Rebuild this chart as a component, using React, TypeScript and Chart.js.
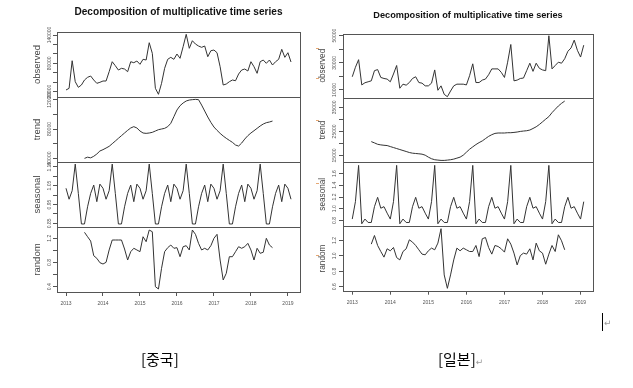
import React, { useEffect, useRef } from 'react';
import { Chart, registerables } from 'chart.js';

Chart.register(...registerables);

// ---------------- data ----------------
const START_YEAR = 2013; // Jan 2013, monthly
const TREND_OFFSET = 6; // trend / random start Jul 2013
const YEAR_TICKS = [2013, 2014, 2015, 2016, 2017, 2018, 2019];
const TITLE = 'Decomposition of multiplicative time series';
const PANEL_NAMES = ['observed', 'trend', 'seasonal', 'random'];

// China
const CN_OBSERVED = [
  23400, 27000, 85500, 41000, 29100, 34000, 44600, 50300, 53100, 44600, 37600, 39700,
  42500, 42500, 62200, 83400, 74900, 65800, 69400, 67900, 62200, 83400, 81300, 84900,
  77900, 88500, 87000, 123700, 101200, 27000, 14300, 37600, 69400, 88500, 92700, 88500,
  99700, 90600, 115200, 141500, 111800, 127900, 120900, 116700, 113900, 116700, 94000, 106700,
  108200, 102500, 72800, 34000, 36100, 41000, 44600, 43100, 57300, 65800, 67900, 63700,
  83400, 72800, 58800, 83400, 87000, 80000, 87000, 76400, 83400, 88500, 109700, 92700,
  102500, 82800,
];
const CN_TREND = [
  40200, 41800, 40900, 43000, 46100, 50200, 52000, 54200, 56500, 60100, 63700, 67400,
  71000, 74600, 78200, 81400, 83200, 81400, 77300, 74600, 74100, 74600, 75500, 77300,
  79100, 80000, 80900, 83200, 87700, 96700, 105800, 111600, 115300, 118000, 119300, 119800,
  120200, 119800, 112500, 104400, 96300, 89000, 82700, 78200, 74100, 70500, 67400, 64600,
  61900, 58300, 56900, 61000, 66400, 71000, 74600, 77700, 80900, 84100, 86800, 88600,
  89500, 90800,
];
const CN_SEASONAL = [
  1.036, 0.978, 1.023, 1.164, 1.009, 0.847, 0.847, 0.938, 1.009, 1.053, 0.965, 1.058,
  1.036, 0.978, 1.023, 1.164, 1.009, 0.847, 0.847, 0.938, 1.009, 1.053, 0.965, 1.058,
  1.036, 0.978, 1.023, 1.164, 1.009, 0.847, 0.847, 0.938, 1.009, 1.053, 0.965, 1.058,
  1.036, 0.978, 1.023, 1.164, 1.009, 0.847, 0.847, 0.938, 1.009, 1.053, 0.965, 1.058,
  1.036, 0.978, 1.023, 1.164, 1.009, 0.847, 0.847, 0.938, 1.009, 1.053, 0.965, 1.058,
  1.036, 0.978, 1.023, 1.164, 1.009, 0.847, 0.847, 0.938, 1.009, 1.053, 0.965, 1.058,
  1.036, 0.978,
];
const CN_RANDOM = [
  1.299, 1.226, 1.155, 0.912, 0.869, 0.797, 0.775, 0.803, 1.007, 1.172, 1.172, 1.172,
  1.172, 1.023, 0.841, 0.979, 1.035, 1.007, 0.979, 1.226, 1.144, 1.337, 1.309, 0.4,
  0.362, 0.704, 0.979, 1.045, 1.089, 1.035, 1.045, 0.896, 1.061, 1.078, 1.007, 1.337,
  1.266, 1.117, 1.007, 1.035, 1.007, 1.078, 1.2, 1.266, 0.841, 0.511, 0.621, 0.896,
  0.896, 0.979, 1.061, 1.035, 1.061, 1.117, 1.007, 0.841, 1.035, 0.952, 0.969, 1.2,
  1.089, 1.045,
];

// Japan
const JP_OBSERVED = [
  19700, 26700, 32300, 13700, 15300, 16000, 16700, 24200, 25000, 19200, 18450, 18000,
  16000, 21750, 28000, 11250, 14250, 13500, 15450, 18450, 19700, 15450, 15000, 13000,
  13000, 15000, 24750, 9750, 13000, 6750, 5000, 9200, 13000, 14250, 14250, 14250,
  13700, 20500, 29250, 15450, 15450, 17250, 18000, 21200, 25500, 25500, 25500, 22950,
  19200, 30450, 43500, 16700, 17250, 18450, 18750, 24200, 29700, 23700, 29700, 25950,
  24750, 24200, 49950, 25500, 28000, 30450, 29700, 33000, 38500, 40950, 46700, 39200,
  34250, 43000,
];
const JP_TREND = [
  20760, 20230, 19650, 19400, 19240, 19120, 18700, 18290, 17880, 17470, 17060, 16650,
  16230, 15950, 15820, 15700, 15540, 15120, 14300, 13640, 13230, 13070, 12940, 12940,
  13070, 13230, 13480, 13890, 14300, 15120, 16360, 17590, 18580, 19530, 20350, 21050,
  22000, 22940, 23640, 24180, 24340, 24340, 24340, 24465, 24465, 24590, 24750, 25000,
  25165, 25290, 25580, 26230, 26930, 27880, 28990, 30100, 31170, 32820, 34220, 35580,
  36690, 37630,
];
const JP_SEASONAL = [
  0.824, 1.121, 1.74, 0.744, 0.824, 0.766, 0.766, 1.036, 1.195, 1.009, 1.036, 0.925,
  0.824, 1.121, 1.74, 0.744, 0.824, 0.766, 0.766, 1.036, 1.195, 1.009, 1.036, 0.925,
  0.824, 1.121, 1.74, 0.744, 0.824, 0.766, 0.766, 1.036, 1.195, 1.009, 1.036, 0.925,
  0.824, 1.121, 1.74, 0.744, 0.824, 0.766, 0.766, 1.036, 1.195, 1.009, 1.036, 0.925,
  0.824, 1.121, 1.74, 0.744, 0.824, 0.766, 0.766, 1.036, 1.195, 1.009, 1.036, 0.925,
  0.824, 1.121, 1.74, 0.744, 0.824, 0.766, 0.766, 1.036, 1.195, 1.009, 1.036, 0.925,
  0.824, 1.121,
];
const JP_RANDOM = [
  1.153, 1.265, 1.135, 1.057, 0.984, 1.092, 1.066, 1.109, 0.978, 0.948, 1.057, 1.092,
  1.209, 1.179, 1.135, 1.079, 1.023, 1.014, 1.066, 1.101, 1.079, 1.166, 1.353, 0.753,
  0.579, 0.753, 0.948, 1.101, 1.066, 1.101, 1.079, 1.057, 1.057, 1.135, 0.991, 1.222,
  1.239, 1.109, 1.023, 1.135, 1.122, 1.092, 1.049, 1.222, 1.153, 1.036, 0.883, 1.004,
  1.036, 1.023, 1.092, 0.948, 1.166, 1.066, 1.036, 0.892, 1.023, 1.135, 1.057, 1.274,
  1.196, 1.079,
];

// axis ticks and labels (R style: not every tick labelled)
const CN_OBS_TICKS = [20000, 40000, 60000, 80000, 100000, 120000, 140000];
const CN_OBS_LABELS = ['20000', '', '', '80000', '', '', '140000'];
const CN_TREND_TICKS = [40000, 60000, 80000, 100000, 120000];
const CN_TREND_LABELS = ['40000', '', '80000', '', '120000'];
const CN_SEAS_TICKS = [0.85, 0.9, 0.95, 1.0, 1.05, 1.1, 1.15];
const CN_SEAS_LABELS = ['0.85', '', '0.95', '', '1.05', '', '1.15'];
const CN_RAND_TICKS = [0.4, 0.6, 0.8, 1.0, 1.2];
const CN_RAND_LABELS = ['0.4', '', '0.8', '', '1.2'];

const JP_OBS_TICKS = [10000, 20000, 30000, 40000, 50000];
const JP_OBS_LABELS = ['10000', '', '30000', '', '50000'];
const JP_TREND_TICKS = [15000, 20000, 25000, 30000, 35000];
const JP_TREND_LABELS = ['15000', '', '25000', '', '35000'];
const JP_SEAS_TICKS = [0.8, 1.0, 1.2, 1.4, 1.6];
const JP_SEAS_LABELS = ['0.8', '1.0', '1.2', '1.4', '1.6'];
const JP_RAND_TICKS = [0.6, 0.8, 1.0, 1.2];
const JP_RAND_LABELS = ['0.6', '0.8', '1.0', '1.2'];

// ---------------- styling ----------------
const FONT = "'Liberation Sans', Arial, Helvetica, sans-serif";
const LINE_COLOR = '#333333';
const BOX_COLOR = '#555555';
const TICK_COLOR = '#555555';
const PANEL_LABEL_COLOR = '#444444';

type Panel = {
  name: string;
  values: number[];
  offset: number;
  min: number;
  max: number;
  ticks: number[];
  labels: string[];
};

type Figure = {
  left: number;
  top: number;
  w: number;
  h: number;
  yAxisWidth: number;
  padRight: number;
  xAxisHeight: number;
  xTickPadding: number;
  titleSize: number;
  titlePadTop: number;
  titlePadBottom: number;
  panelLabelSize: number;
  panelLabelPad: number;
  tickLabelX: number;
  tickFont: number;
  panels: Panel[];
};

const CN_FIG: Figure = {
  left: 0,
  top: 0,
  w: 310,
  h: 318,
  yAxisWidth: 57,
  padRight: 10,
  xAxisHeight: 26,
  xTickPadding: 5,
  titleSize: 10.1,
  titlePadTop: 6.4,
  titlePadBottom: 13.5,
  panelLabelSize: 9.5,
  panelLabelPad: 31.8,
  tickLabelX: 49.5,
  tickFont: 5,
  panels: [
    { name: PANEL_NAMES[0], values: CN_OBSERVED, offset: 0, min: 8556, max: 146360, ticks: CN_OBS_TICKS, labels: CN_OBS_LABELS },
    { name: PANEL_NAMES[1], values: CN_TREND, offset: TREND_OFFSET, min: 35250, max: 123400, ticks: CN_TREND_TICKS, labels: CN_TREND_LABELS },
    { name: PANEL_NAMES[2], values: CN_SEASONAL, offset: 0, min: 0.831, max: 1.175, ticks: CN_SEAS_TICKS, labels: CN_SEAS_LABELS },
    { name: PANEL_NAMES[3], values: CN_RANDOM, offset: TREND_OFFSET, min: 0.312, max: 1.387, ticks: CN_RAND_TICKS, labels: CN_RAND_LABELS },
  ],
};

const JP_FIG: Figure = {
  left: 312,
  top: 0,
  w: 300,
  h: 318,
  yAxisWidth: 31,
  padRight: 19,
  xAxisHeight: 27.3,
  xTickPadding: 4.5,
  titleSize: 9.2,
  titlePadTop: 9.5,
  titlePadBottom: 12.96,
  panelLabelSize: 8.2,
  panelLabelPad: 6.1,
  tickLabelX: 22.8,
  tickFont: 5,
  panels: [
    { name: PANEL_NAMES[0], values: JP_OBSERVED, offset: 0, min: 4200, max: 51600, ticks: JP_OBS_TICKS, labels: JP_OBS_LABELS },
    { name: PANEL_NAMES[1], values: JP_TREND, offset: TREND_OFFSET, min: 12240, max: 38990, ticks: JP_TREND_TICKS, labels: JP_TREND_LABELS },
    { name: PANEL_NAMES[2], values: JP_SEASONAL, offset: 0, min: 0.699, max: 1.796, ticks: JP_SEAS_TICKS, labels: JP_SEAS_LABELS },
    { name: PANEL_NAMES[3], values: JP_RANDOM, offset: TREND_OFFSET, min: 0.548, max: 1.383, ticks: JP_RAND_TICKS, labels: JP_RAND_LABELS },
  ],
};

// draws panel frames and R-style rotated y tick labels from each scale's ticks
const panelPlugin = {
  id: 'decompPanels',
  afterDraw(chart: any, _args: any, opts: any) {
    const { ctx, chartArea } = chart;
    ctx.save();
    ctx.strokeStyle = BOX_COLOR;
    ctx.lineWidth = 1;
    const ids: string[] = opts.ids || [];
    for (const id of ids) {
      const s = chart.scales[id];
      if (!s) continue;
      const x0 = Math.round(chartArea.left) + 0.5;
      const x1 = Math.round(chartArea.right) + 0.5;
      const y0 = Math.round(s.top) + 0.5;
      const y1 = Math.round(s.bottom) + 0.5;
      ctx.strokeRect(x0, y0, x1 - x0, y1 - y0);
    }
    ctx.font = `${opts.fontSize}px ${FONT}`;
    ctx.fillStyle = TICK_COLOR;
    ctx.textAlign = 'center';
    ctx.textBaseline = 'middle';
    for (const id of ids) {
      const s = chart.scales[id];
      if (!s) continue;
      for (const t of s.ticks) {
        if (!t.label) continue;
        const y = s.getPixelForValue(t.value);
        ctx.save();
        ctx.translate(opts.labelX, y);
        ctx.rotate(-Math.PI / 2);
        ctx.fillText(String(t.label), 0, 0);
        ctx.restore();
      }
    }
    ctx.restore();
  },
};

function buildConfig(fig: Figure): any {
  const n = fig.panels[0].values.length;
  const span = (n - 1) / 12;
  const xMin = START_YEAR - 0.04 * span;
  const xMax = START_YEAR + span + 0.04 * span;
  const ids = fig.panels.map((_, k) => 'y' + k);

  const datasets = fig.panels.map((p, k) => ({
    label: p.name,
    data: p.values.map((v, j) => ({ x: START_YEAR + (j + p.offset) / 12, y: v })),
    xAxisID: 'x',
    yAxisID: ids[k],
    borderColor: LINE_COLOR,
    borderWidth: 1,
    pointRadius: 0,
    pointHoverRadius: 0,
    tension: 0,
    fill: false,
  }));

  const scales: any = {
    x: {
      type: 'linear',
      position: 'bottom',
      bounds: 'data',
      min: xMin,
      max: xMax,
      afterBuildTicks: (s: any) => {
        s.ticks = YEAR_TICKS.map((v) => ({ value: v }));
      },
      ticks: {
        autoSkip: false,
        minRotation: 0,
        maxRotation: 0,
        padding: fig.xTickPadding,
        color: TICK_COLOR,
        font: { size: fig.tickFont, family: FONT },
        callback: (v: any) => String(v),
      },
      grid: { display: true, drawOnChartArea: false, drawTicks: true, tickLength: 4, color: BOX_COLOR },
      border: { display: false },
      afterFit: (s: any) => {
        s.height = fig.xAxisHeight;
      },
    },
  };

  fig.panels.forEach((p, k) => {
    scales[ids[k]] = {
      type: 'linear',
      position: 'left',
      stack: 'decomp',
      stackWeight: 1,
      weight: fig.panels.length - k,
      bounds: 'data',
      min: p.min,
      max: p.max,
      afterBuildTicks: (s: any) => {
        s.ticks = p.ticks.map((v) => ({ value: v }));
      },
      ticks: {
        display: false,
        callback: (_v: any, i: number) => p.labels[i] ?? '',
      },
      grid: { display: true, drawOnChartArea: false, drawTicks: true, tickLength: 4, color: BOX_COLOR },
      border: { display: false },
      title: {
        display: true,
        text: p.name,
        color: PANEL_LABEL_COLOR,
        font: { size: fig.panelLabelSize, family: FONT },
        padding: { top: fig.panelLabelPad, bottom: 0 },
      },
      afterFit: (s: any) => {
        s.width = fig.yAxisWidth;
      },
    };
  });

  return {
    type: 'line',
    data: { datasets },
    options: {
      animation: false,
      responsive: false,
      maintainAspectRatio: false,
      devicePixelRatio: 1,
      events: [],
      layout: { padding: { left: 0, right: fig.padRight, top: 0, bottom: 0 } },
      plugins: {
        legend: { display: false },
        tooltip: { enabled: false },
        title: {
          display: true,
          text: TITLE,
          fullSize: false,
          color: '#111111',
          font: { size: fig.titleSize, weight: 'bold', family: FONT },
          padding: { top: fig.titlePadTop, bottom: fig.titlePadBottom },
        },
        decompPanels: { ids, labelX: fig.tickLabelX, fontSize: fig.tickFont },
      },
      scales,
    },
    plugins: [panelPlugin],
  };
}

function DecompChart({ fig }: { fig: Figure }) {
  const ref = useRef<HTMLCanvasElement | null>(null);
  useEffect(() => {
    if (!ref.current) return;
    const chart = new Chart(ref.current, buildConfig(fig));
    return () => chart.destroy();
  }, [fig]);
  return (
    <canvas
      ref={ref}
      width={fig.w}
      height={fig.h}
      style={{ position: 'absolute', left: fig.left, top: fig.top, width: fig.w, height: fig.h }}
    />
  );
}

const CAPTION_FONT = "'Noto Sans CJK KR', 'Noto Sans', sans-serif";
const MARK_FONT = "'DejaVu Sans', sans-serif";
const ORANGE_MARKS = [48, 78, 120, 183, 255];

const captionStyle = (left: number): React.CSSProperties => ({
  position: 'absolute',
  left,
  top: 350,
  fontFamily: CAPTION_FONT,
  fontSize: 15,
  lineHeight: '18px',
  color: '#000',
  whiteSpace: 'nowrap',
  willChange: 'transform',
  transform: 'translateZ(0)',
});

export default function App() {
  return (
    <div
      style={{
        position: 'absolute',
        left: 0,
        top: 0,
        width: 633,
        height: 388,
        background: '#ffffff',
        overflow: 'hidden',
      }}
    >
      <DecompChart fig={CN_FIG} />
      <DecompChart fig={JP_FIG} />
      {ORANGE_MARKS.map((y) => (
        <div
          key={y}
          style={{ position: 'absolute', left: 316, top: y, width: 3, height: 1, background: '#e6a874' }}
        />
      ))}
      <div
        style={{ position: 'absolute', left: 602, top: 313, width: 1, height: 18, background: '#000' }}
      />
      <div
        style={{
          position: 'absolute',
          left: 604,
          top: 317,
          fontFamily: MARK_FONT,
          fontSize: 9,
          lineHeight: '12px',
          color: '#999',
        }}
      >
        ↵
      </div>
      <div style={captionStyle(141)}>[중국]</div>
      <div style={captionStyle(438)}>
        [일본]
        <span style={{ fontFamily: MARK_FONT, fontSize: 9, color: '#999' }}>↵</span>
      </div>
    </div>
  );
}
